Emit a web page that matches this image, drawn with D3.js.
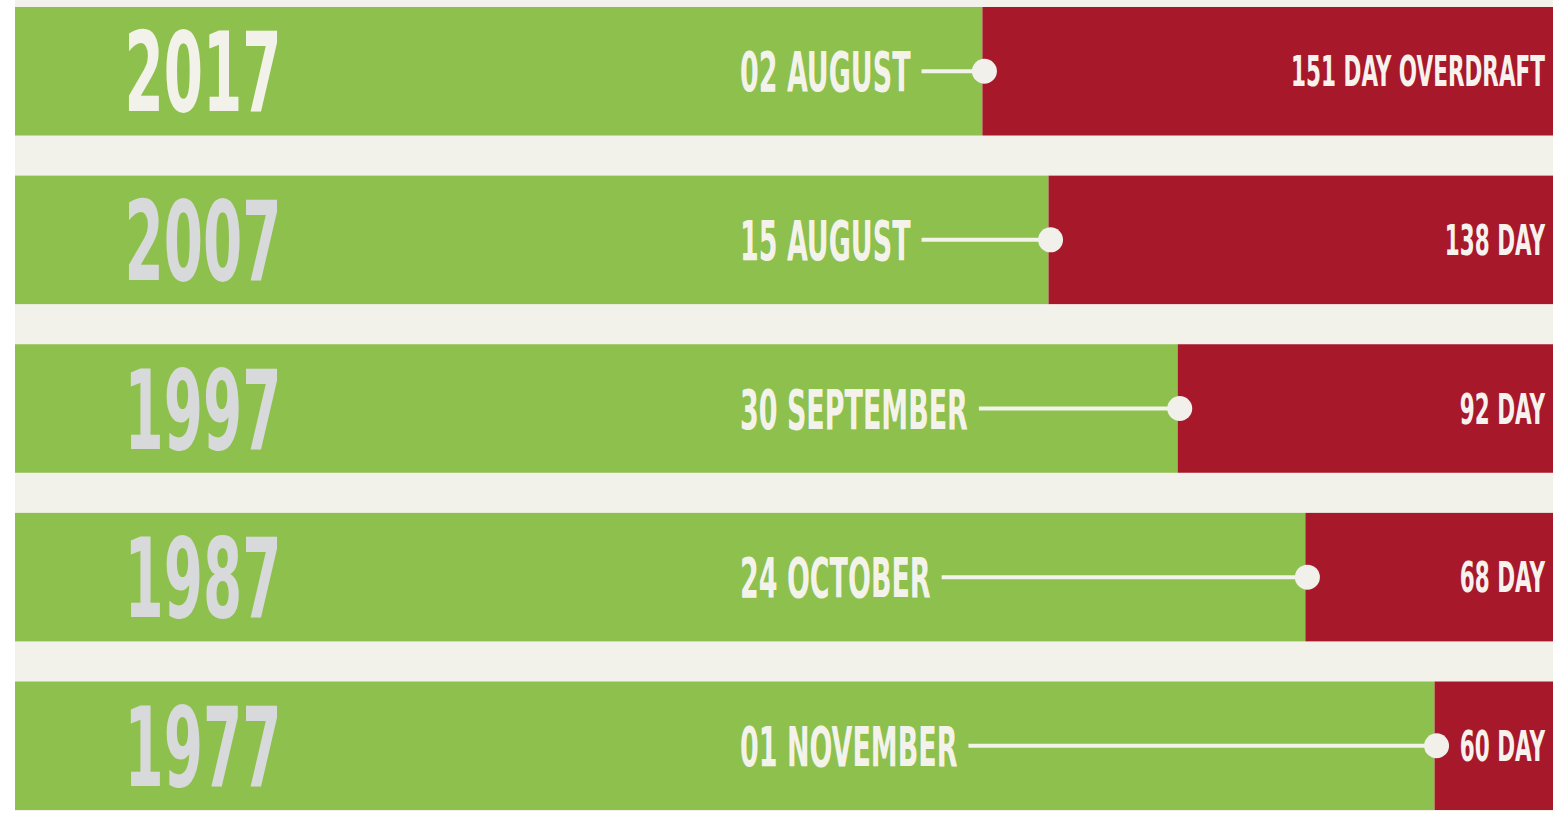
<!DOCTYPE html>
<html>
<head>
<meta charset="utf-8">
<script src="https://cdn.jsdelivr.net/npm/d3@7"></script>
<style>
  body { margin: 0; background: #ffffff; }
  svg { display: block; }
</style>
</head>
<body>
<svg></svg>
<script>
// tamaño de la pagina
var width = 1553;
var height = 813;

// los datos
var years = ["2017", "2007", "1997", "1987", "1977"];
var dates = ["02 AUGUST", "15 AUGUST", "30 SEPTEMBER", "24 OCTOBER", "01 NOVEMBER"];
var overdraftLabels = ["151 DAY OVERDRAFT", "138 DAY", "92 DAY", "68 DAY", "60 DAY"];
// parte verde de cada barra (fraccion del ancho)
var greenShare = [0.629, 0.672, 0.756, 0.839, 0.923];

var rows = years.map(function(y, i) {
  return { year: y, date: dates[i], label: overdraftLabels[i], share: greenShare[i], first: i === 0 };
});

var green = "#8dc04d";
var red = "#a8182b";
var cream = "#f2f1ea";
var font = "'Liberation Sans Narrow', 'DejaVu Sans Condensed', sans-serif";

var svg = d3.select("svg")
  .attr("width", width)
  .attr("height", height);

// fondo crema
svg.append("rect")
  .attr("x", 15).attr("y", 0)
  .attr("width", width - 15).attr("height", 811)
  .attr("fill", cream);

// escalas
var x = d3.scaleLinear().domain([0, 1]).range([15, width]);
var y = d3.scaleBand().domain(years).range([7, 810]).paddingInner(0.238);

var g = svg.selectAll("g.row")
  .data(rows)
  .enter()
  .append("g")
  .attr("class", "row");

// parte verde
g.append("rect")
  .attr("x", x(0))
  .attr("y", function(d) { return y(d.year); })
  .attr("width", function(d) { return x(d.share) - x(0); })
  .attr("height", y.bandwidth())
  .attr("fill", green);

// parte roja
g.append("rect")
  .attr("x", function(d) { return x(d.share); })
  .attr("y", function(d) { return y(d.year); })
  .attr("width", function(d) { return x(1) - x(d.share); })
  .attr("height", y.bandwidth())
  .attr("fill", red);

function mid(d) { return y(d.year) + y.bandwidth() / 2; }

// año
g.append("text")
  .attr("transform", function(d) { return "translate(203," + (mid(d) + 40) + ") scale(0.57,1)"; })
  .attr("text-anchor", "middle")
  .attr("font-family", font)
  .attr("font-weight", "bold")
  .attr("font-size", 110)
  .attr("fill", function(d) { return d.first ? "#f3f2ea" : "#d8d9da"; })
  .text(function(d) { return d.year; });

// fecha
var dateScale = 0.545;
var dateText = g.append("text")
  .attr("transform", function(d) { return "translate(740," + (mid(d) + 20) + ") scale(" + dateScale + ",1)"; })
  .attr("font-family", font)
  .attr("font-weight", "bold")
  .attr("font-size", 55)
  .attr("fill", "#f4f3eb")
  .text(function(d) { return d.date; });

// linea hasta el punto
dateText.each(function(d) {
  d.textEnd = 740 + this.getComputedTextLength() * dateScale;
});

g.append("line")
  .attr("x1", function(d) { return d.textEnd + 11; })
  .attr("x2", function(d) { return x(d.share); })
  .attr("y1", mid)
  .attr("y2", mid)
  .attr("stroke", "#f4f3eb")
  .attr("stroke-width", 4);

g.append("circle")
  .attr("cx", function(d) { return x(d.share) + 2; })
  .attr("cy", mid)
  .attr("r", 12.5)
  .attr("fill", "#f1f0ea");

// dias de sobregiro
g.append("text")
  .attr("transform", function(d) { return "translate(1545," + (mid(d) + 15) + ") scale(0.57,1)"; })
  .attr("text-anchor", "end")
  .attr("font-family", font)
  .attr("font-weight", "bold")
  .attr("font-size", 42)
  .attr("fill", "#f7f2ee")
  .text(function(d) { return d.label; });
</script>
</body>
</html>
